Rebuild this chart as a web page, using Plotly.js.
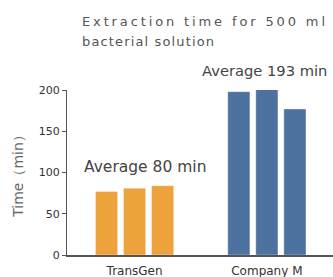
<!DOCTYPE html>
<html><head><meta charset="utf-8">
<script src="https://cdn.plot.ly/plotly-3.0.1.min.js"></script>
<style>html,body{margin:0;padding:0;background:#fff}#c{width:333px;height:277px}</style>
</head><body><div id="c"></div>
<script>
const categories = ['TransGen', 'Company M'];
const run1 = [77, 198];
const run2 = [81, 201];
const run3 = [84, 177];
const groupColors = ['#EDA23C', '#4E72A0'];
const averageLabels = ['Average 80 min', 'Average 193 min'];
const titleLine1 = 'Extraction time for 500 ml';
const titleLine2 = 'bacterial solution';
const yTickVals = [0, 50, 100, 150, 200];
const yRange = [0, 200];

const FONT = 'DejaVu Sans, sans-serif';
const runs = [run1, run2, run3];
const traces = runs.map((r, i) => ({
  type: 'bar', x: categories, y: r, name: 'Run ' + (i + 1),
  marker: {color: groupColors, line: {color: 'rgba(255,255,255,0.35)', width: 1}},
  hoverinfo: 'skip'
}));

const labelShift = [10, -2];
const labelSize = [15.5, 14.7];
const annotations = categories.map((c, i) => ({
  x: c, y: (Math.max(...runs.map(r => r[i])) - yRange[0]) / (yRange[1] - yRange[0]),
  xref: 'x', yref: 'paper', xshift: labelShift[i],
  text: averageLabels[i], showarrow: false, yanchor: 'bottom', yshift: 8,
  font: {family: FONT, size: labelSize[i], color: '#444'}
}));
annotations.push({xref: 'paper', yref: 'paper', x: 0.05, y: 1, yshift: 59, xanchor: 'left', yanchor: 'bottom',
  text: titleLine1, showarrow: false, font: {family: FONT, size: 13, color: '#555'}});
annotations.push({xref: 'paper', yref: 'paper', x: 0.05, y: 1, yshift: 39, xanchor: 'left', yanchor: 'bottom',
  text: titleLine2, showarrow: false, font: {family: FONT, size: 13, color: '#555'}});

const layout = {
  width: 333, height: 277,
  margin: {l: 67, r: 0, t: 90, b: 22},
  paper_bgcolor: '#fff', plot_bgcolor: '#fff',
  showlegend: false,
  barmode: 'group', bargap: 0.364, bargroupgap: 0.21,
  font: {family: FONT, color: '#444'},
  xaxis: {range: [-0.511, 1.5], showline: true, linecolor: '#555', linewidth: 1.5,
    ticks: '', showgrid: false, zeroline: false, tickfont: {size: 12, color: '#333'}, ticklabelstandoff: 4},
  yaxis: {range: yRange, tickvals: yTickVals, showline: true, linecolor: '#555', linewidth: 1,
    ticks: 'outside', ticklen: 4, tickcolor: '#555', showgrid: false, zeroline: false,
    tickfont: {size: 11, color: '#333'},
    title: {text: 'Time（min）', font: {size: 14, color: '#666'}, standoff: 11}},
  annotations: annotations
};
function spread(node, target) {
  const t = node.querySelector('text');
  if (!t) return;
  const len = t.getComputedTextLength();
  const n = t.textContent.length;
  const ls = (target - len) / (n - 1);
  const bb = t.getBBox();
  t.setAttribute('text-anchor', 'start');
  t.setAttribute('x', bb.x);
  if (ls > 0) t.style.letterSpacing = ls + 'px';
}
Plotly.newPlot('c', traces, layout, {displayModeBar: false, staticPlot: true}).then(() => {
  const anns = document.querySelectorAll('.annotation');
  if (anns[2]) spread(anns[2], 243);
  if (anns[3]) spread(anns[3], 132);
});
</script></body></html>
